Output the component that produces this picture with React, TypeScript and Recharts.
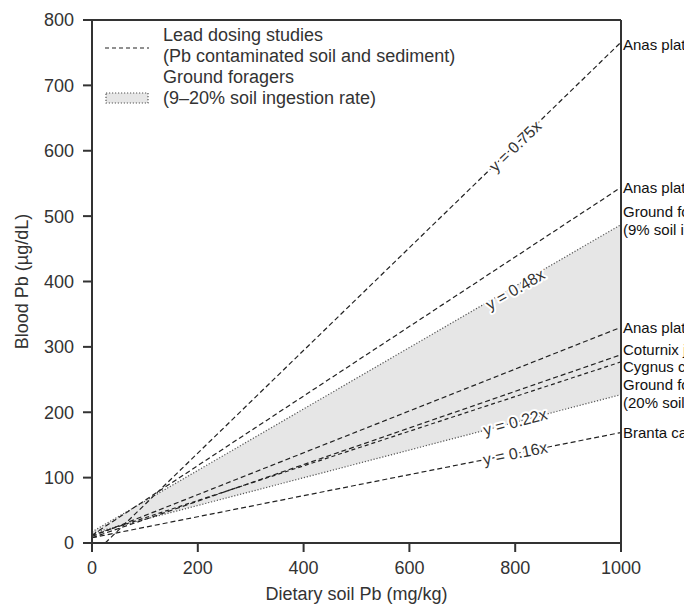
import {
	Area,
	ComposedChart,
	Legend,
	Line,
	ReferenceDot,
	ReferenceLine,
	XAxis,
	YAxis,
} from 'recharts'

// values
const xTicks = [0, 200, 400, 600, 800, 1000]
const yTicks = [0, 100, 200, 300, 400, 500, 600, 700, 800]

// lead dosing studies (dashed)
const dosingStartX = [25, 0, 0, 0, 0, 0]
const dosingStartY = [0, 12, 10, 8, 12, 8]
const dosingEndY = [766, 544, 330, 288, 277, 169]

// ground foragers 9% and 20% soil ingestion (dotted, band between)
const foragerStartY = [17, 15]
const foragerEndY = [487, 227]

// slope labels, placed at x = 800
const slopeLabels = ['y = 0.75x', 'y = 0.48x', 'y = 0.22x', 'y = 0.16x']
const slopeLabelY = [607, 388, 185, 137]
const slopeAngles = [-44, -30, -15, -11.5]

// labels at right edge
const endLabels = [
	'Anas platyrhynchos',
	'Anas platyrhynchos',
	'Ground foragers',
	'(9% soil ingestion rate)',
	'Anas platyrhynchos',
	'Coturnix japonica',
	'Cygnus columbianus',
	'Ground foragers',
	'(20% soil ingestion rate)',
	'Branta canadensis',
]
const endLabelY = [763, 544, 507, 480, 330, 296, 270, 242, 215, 169]

const X_END = 1000
const FONT = '"Liberation Sans", Arial, sans-serif'
const INK = '#333'

const dosingSeries = dosingEndY.map((end, i) => [
	{ x: dosingStartX[i], y: dosingStartY[i] },
	{ x: X_END, y: end },
])
const foragerSeries = foragerEndY.map((end, i) => [
	{ x: 0, y: foragerStartY[i] },
	{ x: X_END, y: end },
])
const bandData = [
	{ x: 0, band: [foragerStartY[1], foragerStartY[0]] },
	{ x: X_END, band: [foragerEndY[1], foragerEndY[0]] },
]

function LegendBox() {
	return (
		<svg width={380} height={100} style={{ fontFamily: FONT }}>
			<line x1={10} x2={54} y1={34} y2={34} stroke='#222' strokeWidth={1.2} strokeDasharray='4 3' />
			<text x={68} y={27} fontSize={18} fill={INK}>Lead dosing studies</text>
			<text x={68} y={48} fontSize={18} fill={INK}>(Pb contaminated soil and sediment)</text>
			<rect x={11} y={79} width={42} height={10} fill='#e6e6e6' stroke='#555' strokeWidth={1.2} strokeDasharray='1.2 1.8' />
			<text x={68} y={69} fontSize={18} fill={INK}>Ground foragers</text>
			<text x={68} y={90} fontSize={18} fill={INK}>(9–20% soil ingestion rate)</text>
		</svg>
	)
}

export default function App() {
	return (
		<ComposedChart
			width={684}
			height={600}
			margin={{ top: 12, right: 71, bottom: 0, left: 6 }}
			style={{ fontFamily: FONT }}
		>
			<XAxis
				type='number'
				dataKey='x'
				domain={[0, 1000]}
				ticks={xTicks}
				allowDataOverflow
				height={65}
				tickSize={9}
				tickMargin={9}
				stroke={INK}
				strokeWidth={2}
				tick={{ fontSize: 18, fill: INK }}
				label={{ value: 'Dietary soil Pb (mg/kg)', position: 'insideBottom', offset: 8, fontSize: 18, fill: INK }}
			/>
			<YAxis
				type='number'
				domain={[0, 800]}
				ticks={yTicks}
				allowDataOverflow
				width={78}
				tickSize={9}
				tickMargin={9}
				stroke={INK}
				strokeWidth={2}
				tick={{ fontSize: 18, fill: INK }}
				label={{
					value: 'Blood Pb (µg/dL)',
					content: ({ viewBox }: any) => (
						<text
							x={viewBox.x + 8}
							y={viewBox.y + viewBox.height / 2}
							transform={`rotate(-90 ${viewBox.x + 8} ${viewBox.y + viewBox.height / 2})`}
							textAnchor='middle'
							dominantBaseline='central'
							fontSize={18}
							fill={INK}
						>
							Blood Pb (µg/dL)
						</text>
					),
				}}
			/>
			<Area
				data={bandData}
				dataKey='band'
				type='linear'
				fill='#e6e6e6'
				fillOpacity={1}
				stroke='none'
				isAnimationActive={false}
			/>
			{foragerSeries.map((d, i) => (
				<Line
					key={'f' + i}
					data={d}
					dataKey='y'
					type='linear'
					stroke='#555'
					strokeWidth={1.2}
					strokeDasharray='1.2 1.8'
					dot={false}
					isAnimationActive={false}
				/>
			))}
			{dosingSeries.map((d, i) => (
				<Line
					key={'d' + i}
					data={d}
					dataKey='y'
					type='linear'
					stroke='#222'
					strokeWidth={1.2}
					strokeDasharray={i === 4 ? '4 3' : '5 3'}
					dot={false}
					isAnimationActive={false}
				/>
			))}
			<ReferenceLine y={800} stroke={INK} strokeWidth={2} />
			<ReferenceLine x={1000} stroke={INK} strokeWidth={2} />
			{slopeLabels.map((t, i) => (
				<ReferenceDot
					key={'s' + i}
					x={800}
					y={slopeLabelY[i]}
					r={0}
					shape={(p: any) => (
						<text
							x={p.cx}
							y={p.cy}
							transform={`rotate(${slopeAngles[i]} ${p.cx} ${p.cy})`}
							textAnchor='middle'
							dominantBaseline='central'
							fontSize={16}
							fill={INK}
							stroke='#fff'
							strokeWidth={4}
							paintOrder='stroke'
							strokeLinejoin='round'
						>
							{t}
						</text>
					)}
				/>
			))}
			{endLabels.map((t, i) => (
				<ReferenceDot
					key={'e' + i}
					x={X_END}
					y={endLabelY[i]}
					r={0}
					shape={(p: any) => (
						<text
							x={p.cx + 2}
							y={p.cy}
							dominantBaseline='central'
							fontSize={15}
							fill='#111'
						>
							{t}
						</text>
					)}
				/>
			))}
			<Legend
				layout='vertical'
				align='center'
				verticalAlign='middle'
				wrapperStyle={{ left: 87, top: 6, width: 380 }}
				content={() => <LegendBox />}
			/>
		</ComposedChart>
	)
}
